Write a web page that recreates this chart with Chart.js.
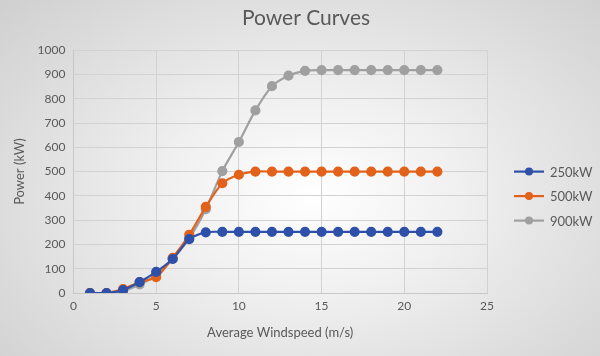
<!DOCTYPE html>
<html>
<head>
<meta charset="utf-8">
<script src="https://cdn.jsdelivr.net/npm/chart.js@4/dist/chart.umd.min.js"></script>
<style>
html,body{margin:0;padding:0;}
body{width:600px;height:356px;overflow:hidden;
background:radial-gradient(ellipse 70% 80% at 52% 55%, #ffffff 0%, #f0f0f0 35%, #dcdcdc 75%, #d0d0d0 100%);}
#wrap{width:600px;height:356px;position:relative;}
</style>
</head>
<body>
<div id="wrap"><canvas id="c"></canvas></div>
<script>
const windspeed = [1,2,3,4,5,6,7,8,9,10,11,12,13,14,15,16,17,18,19,20,21,22];
const power250 = [0,0,12,45,87,140,222,250,252,252,252,252,252,252,252,252,252,252,252,252,252,252];
const power500 = [0,0,16,45,65,145,240,355,452,487,500,500,500,500,500,500,500,500,500,500,500,500];
const power900 = [0,0,8,35,73,140,225,345,502,622,752,852,895,915,918,918,918,918,918,918,918,918];
const seriesNames = ['250kW','500kW','900kW'];
const seriesColors = ['#2E50A8','#E2621B','#A0A0A0'];
const xTicks = [0,5,10,15,20,25];
const yTicks = [0,100,200,300,400,500,600,700,800,900,1000];

const FONT = 'Lato, "Open Sans", sans-serif';
const TXT = '#595959';

function mk(vals, i){
  return {
    label: seriesNames[i],
    data: windspeed.map((x,k)=>({x:x,y:vals[k]})),
    borderColor: seriesColors[i],
    backgroundColor: seriesColors[i],
    pointBackgroundColor: seriesColors[i],
    pointBorderColor: seriesColors[i],
    borderWidth: 2.2,
    pointRadius: 4,
    pointHoverRadius: 4,
    tension: 0.25,
    fill: false
  };
}

const sideLegend = {
  id: 'sideLegend',
  afterDraw(chart){
    const ctx = chart.ctx, a = chart.chartArea;
    const cy = (a.top + a.bottom) / 2;
    ctx.save();
    ctx.font = '13px ' + FONT;
    ctx.textBaseline = 'middle';
    ctx.textAlign = 'left';
    chart.data.datasets.forEach((d, i) => {
      const y = cy + i * 24.5;
      const x0 = a.right + 27;
      ctx.strokeStyle = d.borderColor; ctx.lineWidth = 2.2;
      ctx.beginPath(); ctx.moveTo(x0, y); ctx.lineTo(x0 + 30, y); ctx.stroke();
      ctx.fillStyle = d.borderColor;
      ctx.beginPath(); ctx.arc(x0 + 15, y, 4, 0, Math.PI * 2); ctx.fill();
      ctx.fillStyle = TXT;
      ctx.fillText(d.label, x0 + 36, y + 1);
    });
    ctx.restore();
  }
};

new Chart(document.getElementById('c'), {
  type: 'line',
  data: { datasets: [mk(power250,0), mk(power500,1), mk(power900,2)] },
  options: {
    responsive: true,
    maintainAspectRatio: false,
    animation: false,
    layout: { padding: { left: 12, right: 0, top: 0, bottom: 15 } },
    plugins: {
      title: { display: true, text: 'Power Curves', color: TXT,
        font: { family: FONT, size: 21, weight: 'normal' }, padding: { top: 6, bottom: 19 } },
      legend: { display: false },
      tooltip: { enabled: false }
    },
    scales: {
      x: {
        type: 'linear', min: 0, max: 25,
        afterBuildTicks: (s) => { s.ticks = xTicks.map(v=>({value:v})); },
        ticks: { color: TXT, font: { family: FONT, size: 12 }, padding: 6, callback: v => String(v) },
        grid: { color: '#d2d2d2', lineWidth: 1, drawTicks: false },
        border: { display: true, color: '#c8c8c8' },
        title: { display: true, text: 'Average Windspeed (m/s)', color: TXT,
          font: { family: FONT, size: 13 }, padding: { top: 6, bottom: 0 } }
      },
      y: {
        min: 0, max: 1000,
        afterBuildTicks: (s) => { s.ticks = yTicks.map(v=>({value:v})); },
        ticks: { color: TXT, font: { family: FONT, size: 12 }, padding: 8, callback: v => String(v) },
        grid: { color: '#d2d2d2', lineWidth: 1, drawTicks: false },
        border: { display: true, color: '#c8c8c8' },
        title: { display: true, text: 'Power (kW)', color: TXT,
          font: { family: FONT, size: 13 }, padding: { top: 0, bottom: 2 } }
      },
      legendSpace: {
        type: 'linear', position: 'right', display: true,
        grid: { display: false, drawTicks: false }, border: { display: false },
        ticks: { display: false },
        afterFit: (s) => { s.width = 113; }
      }
    }
  },
  plugins: [sideLegend]
});
</script>
</body>
</html>
